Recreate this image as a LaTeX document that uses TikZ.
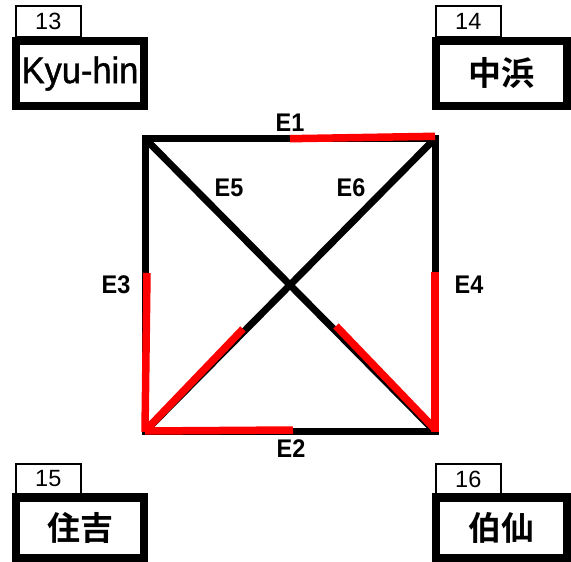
\documentclass[tikz,border=0pt]{standalone}
\usepackage{fontspec}
\setmainfont{Liberation Sans}
\newfontfamily\jpfont{Noto Sans CJK JP Bold}
\newfontfamily\namefont[FakeStretch=0.93,FakeBold=1.2]{Liberation Sans}
\newfontfamily\labfont[FakeStretch=0.92]{Liberation Sans Bold}
\begin{document}
\begin{tikzpicture}[x=1pt,y=-1pt,
  numbox/.style={draw=black,line width=2pt,fill=white,inner sep=0pt,outer sep=0pt,
    minimum width=64.7pt,minimum height=31pt,font=\fontsize{23.5}{24}\selectfont},
  namebox/.style={draw=black,line width=8.3pt,fill=white,inner sep=0pt,outer sep=0pt,
    minimum height=65pt},
  jptext/.style={font=\jpfont\fontsize{33}{34}\selectfont},
  edgelab/.style={anchor=base,inner sep=0pt,font=\labfont\fontsize{25.5}{26}\selectfont},
  sq/.style={line width=7pt,draw=black},
  red/.style={line width=7.5pt,draw=red},
]
\useasboundingbox[fill=white] (0,0) rectangle (571,562);

% station boxes
\node[numbox] (n13) at (48.3,21.5) {13};
\node[numbox] (n14) at (468.3,21.5) {14};
\node[numbox] (n15) at (48.3,479) {15};
\node[numbox] (n16) at (468.3,479) {16};
\node[namebox,minimum width=128pt,font=\namefont\fontsize{37}{38}\selectfont] (s13) at (80,73.5) {Kyu-hin};
\node[namebox,minimum width=131pt,jptext] (s14) at (501.5,73.5) {中浜};
\node[namebox,minimum width=128pt,minimum height=60.5pt,jptext] (s15) at (80,527.75) {住吉};
\node[namebox,minimum width=131pt,minimum height=60.5pt,jptext] (s16) at (501.5,527.75) {伯仙};

% square corners
\coordinate (A) at (145,138.5);
\coordinate (B) at (435,138.5);
\coordinate (C) at (145,431.5);
\coordinate (D) at (435,431.5);

% black edges
\draw[sq,line join=miter,line cap=rect] (A) -- (B) -- (D) -- (C) -- cycle;
\draw[sq] (A) -- (D);
\draw[sq] (B) -- (C);

% red parts
\coordinate (r1a) at (290,138.7);
\coordinate (r1b) at (435,136.3);
\coordinate (r3a) at (147,273);
\coordinate (r3b) at (145,432);
\coordinate (r4a) at (435,272);
\coordinate (r4b) at (435,432);
\coordinate (r2a) at (145,431);
\coordinate (r2b) at (293,430);
\coordinate (r6a) at (146,430);
\coordinate (r6b) at (243,329);
\coordinate (r5a) at (336,326);
\coordinate (r5b) at (434,428);
\draw[red] (r1a) -- (r1b);
\draw[red] (r3a) -- (r3b);
\draw[red] (r4a) -- (r4b);
\draw[red] (r2a) -- (r2b);
\draw[red] (r6a) -- (r6b);
\draw[red] (r5a) -- (r5b);

% edge labels
\node[edgelab] (e1) at (290,131.7) {E1};
\node[edgelab] (e2) at (291,457) {E2};
\node[edgelab] (e3) at (116,293) {E3};
\node[edgelab] (e4) at (469,293) {E4};
\node[edgelab] (e5) at (229,196.7) {E5};
\node[edgelab] (e6) at (351,196.7) {E6};
\end{tikzpicture}
\end{document}
